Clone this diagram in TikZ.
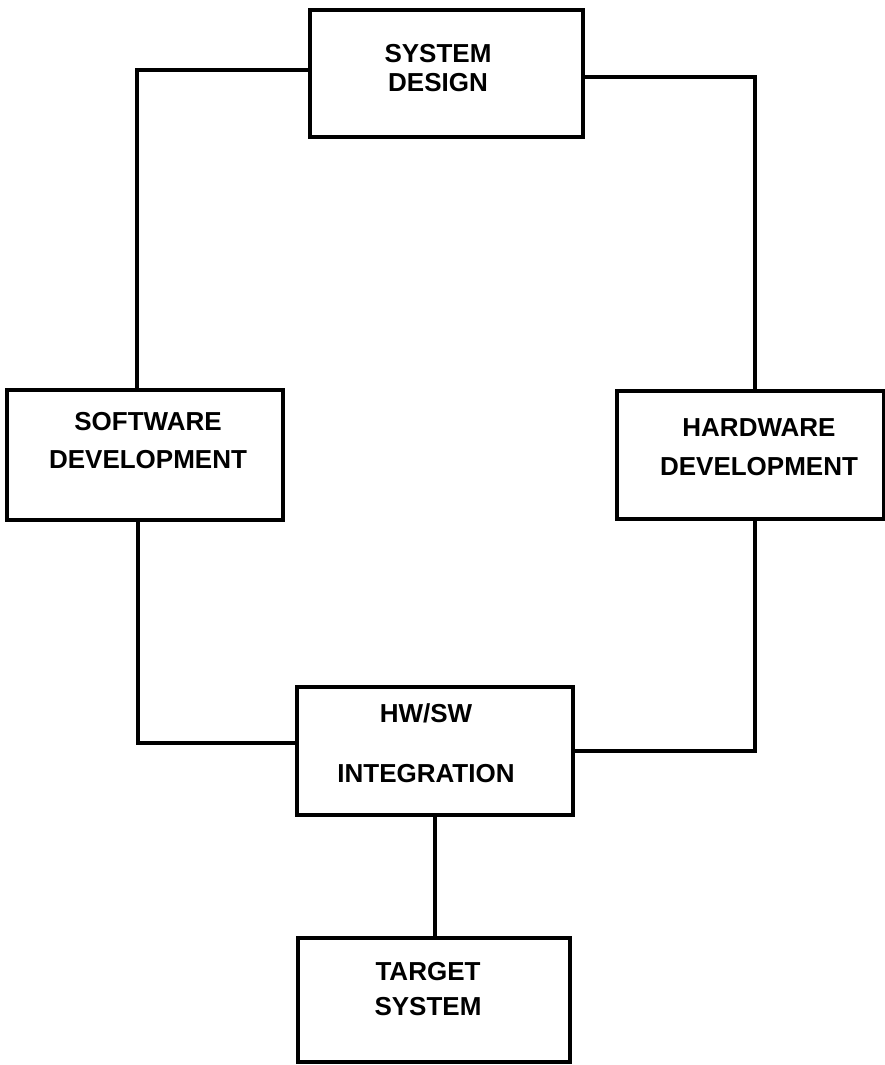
\documentclass[tikz,border=0pt]{standalone}
\usepackage{fontspec}
\setmainfont{Liberation Sans}
\usetikzlibrary{calc}

\begin{document}
\begin{tikzpicture}[x=0.75pt, y=-0.75pt, line width=3pt,
  blk/.style={draw, rectangle, inner sep=0pt},
  txt/.style={font=\fontsize{19.5}{#1}\selectfont\bfseries, align=center, inner sep=0pt}]
  \useasboundingbox (0,0) rectangle (885,1065);
  % blocks
  \node[blk, minimum width=204.75pt, minimum height=95.25pt] (sysdesign) at (446.5,73.5) {};
  \node[blk, minimum width=207pt, minimum height=97.5pt] (swdev) at (145,455) {};
  \node[blk, minimum width=200.25pt, minimum height=96pt] (hwdev) at (750.5,455) {};
  \node[blk, minimum width=207pt, minimum height=96pt] (integ) at (435,751) {};
  \node[blk, minimum width=204pt, minimum height=93pt] (target) at (434,1000) {};
  % labels
  \node[txt=21.75pt] (sysdesign-t) at (438,68.5) {SYSTEM\\DESIGN};
  \node[txt=28.5pt] (swdev-t) at (148,441) {SOFTWARE\\DEVELOPMENT};
  \node[txt=29.25pt] (hwdev-t) at (759,447.5) {HARDWARE\\DEVELOPMENT};
  \node[txt=45pt] (integ-t) at (426,743) {HW/SW\\INTEGRATION};
  \node[txt=26.25pt] (target-t) at (428,989.5) {TARGET\\SYSTEM};
  % connectors
  \draw ($(sysdesign.west)+(0,-3.5)$) -| ($(swdev.north)+(-8,0)$);
  \draw ($(sysdesign.east)+(0,3.5)$) -| ($(hwdev.north)+(4,0)$);
  \draw ($(swdev.south)+(-7,0)$) |- ($(integ.west)+(0,-8)$);
  \draw ($(hwdev.south)+(4,0)$) |- (integ.east);
  \draw (integ.south) -- (integ.south |- target.north);
\end{tikzpicture}
\end{document}
